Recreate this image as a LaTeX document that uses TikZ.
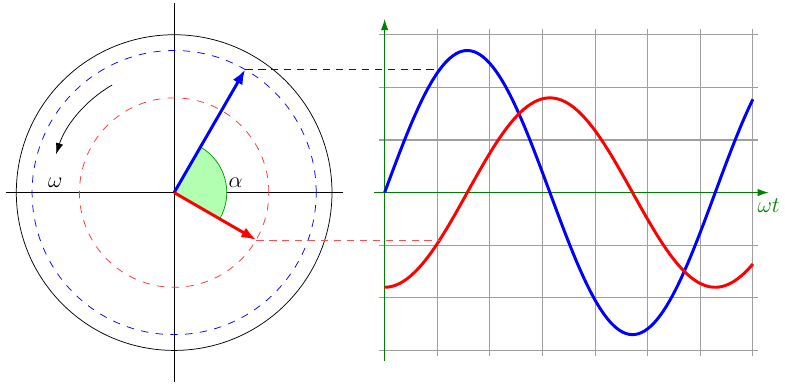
\documentclass[tikz,border=0pt]{standalone}
\usetikzlibrary{arrows.meta}
\begin{document}
\begin{tikzpicture}[every node/.style={font=\large}]
    \useasboundingbox (-3.31,-3.66) rectangle (11.61,3.66);

    % 坐标轴
    \draw (-3.2, 0) -- (3.2, 0);
    \draw (0, -3.6) -- (0, 3.6);

    % 圆
    \draw (0, 0) circle (3);
    \draw[blue, dash pattern=on 4pt off 4pt] (0, 0) circle (2.7);
    \draw[red!80, dash pattern=on 4pt off 4pt] (0, 0) circle (1.8);

    % 角
    \filldraw[fill=green!30, draw=green!60!black] (0, 0) -- (-30:1) arc (-30:60:1) -- cycle;
    \node (alpha) at (1.17, 0.19) {$\alpha$};

    % 旋转方向
    \draw[-{Latex[length=6pt, width=4pt]}] (120:2.36) arc (120:162:2.36);
    \node (omega) at (-2.26, 0.19) {$\omega$};

    % 相量
    \coordinate (O) at (0, 0);
    \coordinate (U) at (60:2.7);
    \coordinate (I) at (-30:1.8);
    \draw[blue, line width=1.6pt, -{Latex[length=8pt, width=6pt]}] (O) -- (U);
    \draw[red, line width=1.6pt, -{Latex[length=8pt, width=6pt]}] (O) -- (I);

    % 波形
    \begin{scope}[xshift=4cm]
        \draw[gray!75, semithick] (-0.1, -3.1) grid (7.1, 3.1);
        \draw[-{Latex[length=6pt, width=4pt]}, green!50!black, semithick] (-0.2, 0) -- (7.3, 0) node[below] (wt) {$\omega t$};
        \draw[-{Latex[length=6pt, width=4pt]}, green!50!black, semithick] (0, -3.2) -- (0, 3.3);

        \draw[blue, line width=1.6pt] plot[domain=0:7, samples=120] (\x, {2.7*sin(\x r)});
        \draw[red, line width=1.6pt] plot[domain=0:7, samples=120] (\x, {-1.8*cos(\x r)});

        \coordinate (u) at ({pi/3}, {2.7*sin(60)});
        \coordinate (i) at ({pi/3}, {-1.8*cos(60)});
    \end{scope}

    % 投影
    \draw[blue, dash pattern=on 4pt off 3pt] (U) -- (u);
    \draw[red!70, dash pattern=on 4pt off 3pt] (I) -- (i);
\end{tikzpicture}
\end{document}
